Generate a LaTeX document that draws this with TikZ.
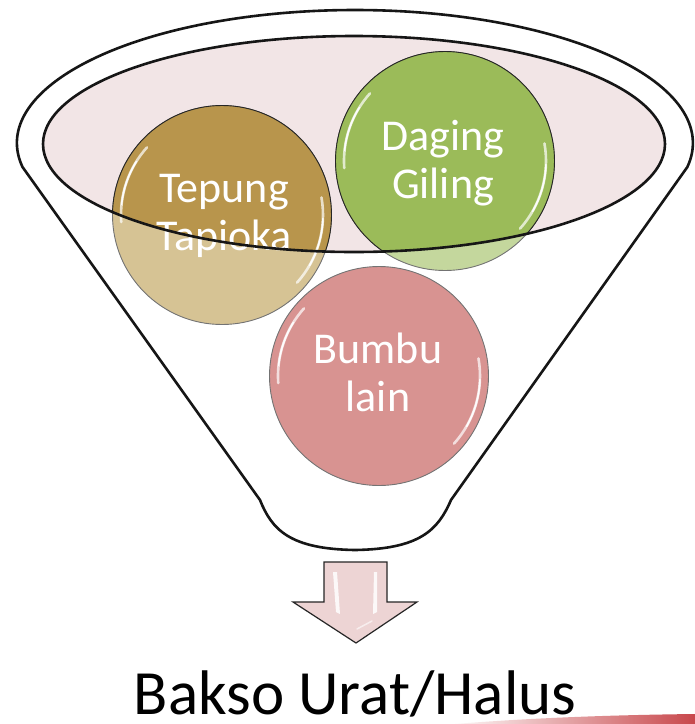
\documentclass[tikz,border=0pt]{standalone}
\usepackage{fontspec}
\setmainfont{Carlito}
\usetikzlibrary{calc}

\definecolor{rim}{HTML}{161616}
\definecolor{bowl}{HTML}{F2E5E6}
\definecolor{tapioka}{HTML}{B8954C}
\definecolor{tapiokalt}{HTML}{D6C394}
\definecolor{daging}{HTML}{9BBB59}
\definecolor{daginglt}{HTML}{C4D79D}
\definecolor{bumbu}{HTML}{D89391}
\definecolor{arrowfill}{HTML}{EDD4D4}
\definecolor{swoosh}{HTML}{C8474B}

\begin{document}
\begin{tikzpicture}[x=1pt,y=-1pt,
  ball/.style={circle, minimum size=219pt, inner sep=0pt, outer sep=0pt},
  washed/.style={draw=black!55, line width=0.9pt},
  strong/.style={draw=black!85, line width=0.9pt},
  balltext/.style={text=white, align=center, font=\fontsize{44}{48}\selectfont},
  rimline/.style={draw=rim, line width=2.6pt, line join=round},
  gloss/.style={white, line width=2.6pt, line cap=round, opacity=0.7},
  glosscore/.style={white, line width=1.6pt, line cap=round, opacity=0.95},
]
\useasboundingbox (0,0) rectangle (695,724);
\fill[white] (0,0) rectangle (695,724);

% funnel body: rim arc over the top, two sides and a rounded spout
\path[rimline, fill=white]
  (22.5,167) arc[start angle=169.6, end angle=370.4, x radius=338, y radius=133]
  -- (451,500) .. controls (438,530) and (420,549) .. (355,550)
  .. controls (290,549) and (272,530) .. (260,500) -- cycle;

% opening of the funnel
\fill[bowl] (354,144) ellipse[x radius=311, y radius=108];

% ingredient balls, pale where they sit inside the funnel body
\node[ball, fill=tapiokalt, washed] (tepung) at (222,215) {};
\node[ball, fill=daginglt, washed] (daging) at (445,161) {};
\node[ball, fill=bumbu, washed] (bumbu) at (379,376) {};

% full colour where the balls show through the opening
\begin{scope}
  \clip (354,144) ellipse[x radius=311, y radius=108];
  \node[ball, fill=tapioka, strong] at (tepung) {};
  \node[ball, fill=daging, strong] at (daging) {};
\end{scope}

% glossy highlights along the ball edges
\foreach \b in {tepung, daging, bumbu} {
  \draw[gloss] ($(\b)+(222:101)$) arc[start angle=222, end angle=176, radius=101];
  \draw[glosscore] ($(\b)+(212:101)$) arc[start angle=212, end angle=186, radius=101];
  \draw[gloss] ($(\b)+(-10:101)$) arc[start angle=-10, end angle=42, radius=101];
  \draw[glosscore] ($(\b)+(2:101)$) arc[start angle=2, end angle=30, radius=101];
}

% labels on the balls
\node[balltext] (tepung-label) at (224,216) {Tepung\\Tapioka};
\node[balltext] (daging-label) at (443,163) {Daging\\Giling};
\node[balltext] (bumbu-label) at (378,372) {Bumbu\\lain};

% rim of the opening, drawn over the balls
\draw[rimline] (354,144) ellipse[x radius=311, y radius=108];

% down arrow out of the spout
\path[draw=black!85, line width=1.2pt, line join=miter, fill=arrowfill]
  (324,562) -- (387,562) -- (387,602) -- (417,602) -- (356,643)
  -- (293,602) -- (324,602) -- cycle;
\fill[white, opacity=0.85] (333,572) -- (337,572) -- (340,614) -- (336,612) -- cycle;
\fill[white, opacity=0.85] (374,572) -- (377,572) -- (377,612) -- (373,614) -- cycle;
\draw[white, line width=1.5pt, opacity=0.6, line cap=round] (357,629) -- (372,621);

% result
\node[font=\fontsize{63}{70}\selectfont, anchor=base] (result) at (355,714) {Bakso Urat/Halus};

% red sweep along the lower right edge
\shade[left color=swoosh!5, right color=swoosh]
  (455,724) .. controls (530,718) and (610,715) .. (695,714) -- (695,724) -- cycle;
\end{tikzpicture}
\end{document}
